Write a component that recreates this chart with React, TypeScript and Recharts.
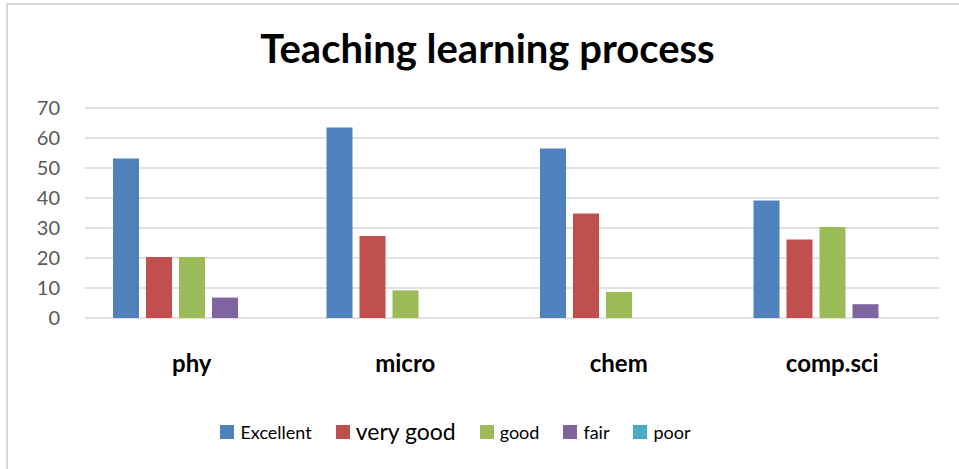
import { BarChart, Bar, XAxis, YAxis, CartesianGrid } from 'recharts'

// Survey of teaching-learning process by department (percent)
const departments = ['phy', 'micro', 'chem', 'comp.sci']
const excellent = [53.2, 63.5, 56.5, 39.2]
const veryGood = [20.3, 27.3, 34.8, 26.2]
const good = [20.3, 9.2, 8.7, 30.3]
const fair = [6.8, 0, 0, 4.6]
const poor = [0, 0, 0, 0]
const yTicks = [0, 10, 20, 30, 40, 50, 60, 70]

const seriesList = [
  { key: 'excellent', name: 'Excellent', color: '#4f81bd', fontSize: 18 },
  { key: 'veryGood', name: 'very good', color: '#c0504d', fontSize: 23 },
  { key: 'good', name: 'good', color: '#9bbb59', fontSize: 18 },
  { key: 'fair', name: 'fair', color: '#8064a2', fontSize: 18 },
  { key: 'poor', name: 'poor', color: '#4bacc6', fontSize: 18 },
]

const data = departments.map((d, i) => ({
  dept: d,
  excellent: excellent[i],
  veryGood: veryGood[i],
  good: good[i],
  fair: fair[i],
  poor: poor[i],
}))

const FONT = 'Lato, "Open Sans", sans-serif'

function DeptTick({ x, y, payload }: { x?: number; y?: number; payload?: { value: string } }) {
  return (
    <text x={x} y={(y ?? 0) + 46} textAnchor="middle" fontFamily={FONT} fontWeight={700} fontSize={24} fill="#000">
      {payload?.value}
    </text>
  )
}

export default function App() {
  return (
    <div
      style={{
        position: 'absolute',
        left: 0,
        top: 0,
        width: 959,
        height: 469,
        background: '#fff',
        overflow: 'hidden',
      }}
    >
      <div
        style={{
          position: 'absolute',
          left: 6,
          top: 3,
          width: 1000,
          height: 1000,
          borderLeft: '2px solid #d9d9d9',
          borderTop: '2px solid #d9d9d9',
        }}
      />
      <div
        style={{
          position: 'absolute',
          left: 0,
          top: 24,
          width: 975,
          textAlign: 'center',
          fontFamily: FONT,
          fontWeight: 700,
          fontSize: 40,
          color: '#000',
          lineHeight: 1.2,
        }}
      >
        Teaching learning process
      </div>
      <div style={{ position: 'absolute', left: 0, top: 0 }}>
        <BarChart
          width={959}
          height={469}
          data={data}
          margin={{ top: 108, right: 20, left: 0, bottom: 0 }}
          barCategoryGap={28}
          barGap={7}
        >
          <CartesianGrid vertical={false} stroke="#d9d9d9" strokeWidth={1.5} />
          <XAxis
            dataKey="dept"
            axisLine={false}
            tickLine={false}
            height={151}
            interval={0}
            tick={<DeptTick />}
          />
          <YAxis
            width={85}
            domain={[0, 70]}
            ticks={yTicks}
            interval={0}
            axisLine={false}
            tickLine={false}
            tickMargin={19}
            tick={{ fill: '#595959', fontSize: 20, fontFamily: FONT }}
          />
          {seriesList.map((s) => (
            <Bar key={s.key} dataKey={s.key} name={s.name} fill={s.color} isAnimationActive={false} />
          ))}
        </BarChart>
      </div>
      <div
        style={{
          position: 'absolute',
          left: -24,
          top: 420,
          width: 959,
          display: 'flex',
          justifyContent: 'center',
          alignItems: 'center',
          gap: 24,
          fontFamily: FONT,
          color: '#000',
        }}
      >
        {seriesList.map((s) => (
          <div key={s.key} style={{ display: 'flex', alignItems: 'center' }}>
            <span style={{ width: 14, height: 14, background: s.color, display: 'inline-block', marginRight: 6 }} />
            <span style={{ fontSize: s.fontSize, lineHeight: 1 }}>{s.name}</span>
          </div>
        ))}
      </div>
    </div>
  )
}
